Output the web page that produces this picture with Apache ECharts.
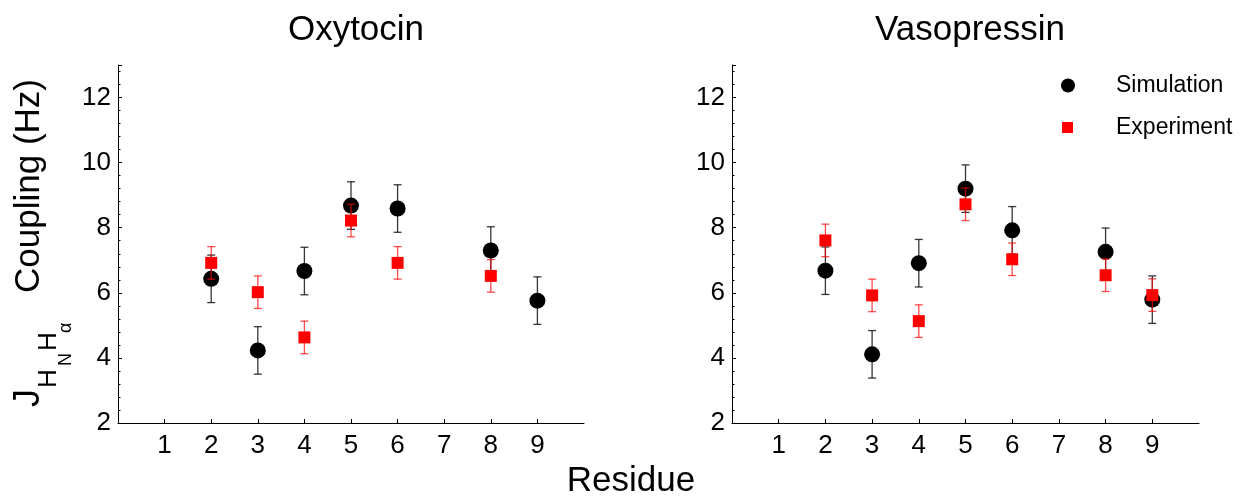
<!DOCTYPE html>
<html>
<head>
<meta charset="utf-8">
<script src="https://cdn.jsdelivr.net/npm/echarts@6/dist/echarts.min.js"></script>
<style>
  html, body { margin: 0; padding: 0; background: #fff; }
  #chart { width: 1244px; height: 501px; }
</style>
</head>
<body>
<div id="chart"></div>
<script>
// residue numbers
var simResidues = [2, 3, 4, 5, 6, 8, 9];
var oxyExpResidues = [2, 3, 4, 5, 6, 8];
var vasoExpResidues = [2, 3, 4, 5, 6, 8, 9];

// Oxytocin
var oxySim = [6.43, 4.23, 6.67, 8.68, 8.59, 7.30, 5.76];
var oxySimErr = [0.73, 0.73, 0.73, 0.73, 0.73, 0.73, 0.73];
var oxyExp = [6.92, 6.02, 4.63, 8.22, 6.92, 6.52];
var oxyExpErr = [0.5, 0.5, 0.5, 0.5, 0.5, 0.5];

// Vasopressin
var vasoSim = [6.68, 4.11, 6.91, 9.20, 7.92, 7.26, 5.79];
var vasoSimErr = [0.73, 0.73, 0.73, 0.73, 0.73, 0.73, 0.73];
var vasoExp = [7.61, 5.92, 5.13, 8.72, 7.03, 6.54, 5.93];
var vasoExpErr = [0.5, 0.5, 0.5, 0.5, 0.5, 0.5, 0.5];

var xTicks = [1, 2, 3, 4, 5, 6, 7, 8, 9];
var yTicks = [2, 4, 6, 8, 10, 12];

var FONT = "'Liberation Sans', Arial, sans-serif";

function points(xs, ys) {
  return xs.map(function (x, i) { return [x, ys[i]]; });
}
function bars(xs, ys, es) {
  return xs.map(function (x, i) { return [x, ys[i] - es[i], ys[i] + es[i]]; });
}

function errorBar(color) {
  return function (params, api) {
    var x = api.value(0);
    var lo = api.coord([x, api.value(1)]);
    var hi = api.coord([x, api.value(2)]);
    var w = 4;
    var st = { stroke: color, lineWidth: 1.3 };
    return {
      type: 'group',
      children: [
        { type: 'line', shape: { x1: hi[0], y1: hi[1], x2: lo[0], y2: lo[1] }, style: st },
        { type: 'line', shape: { x1: hi[0] - w, y1: hi[1], x2: hi[0] + w, y2: hi[1] }, style: st },
        { type: 'line', shape: { x1: lo[0] - w, y1: lo[1], x2: lo[0] + w, y2: lo[1] }, style: st }
      ]
    };
  };
}

function xAxisFor(idx) {
  return {
    gridIndex: idx,
    type: 'value',
    min: 0,
    max: 10,
    interval: 1,
    axisLine: { lineStyle: { color: '#000', width: 1 } },
    axisTick: { inside: true, length: 4, customValues: xTicks, lineStyle: { color: '#000' } },
    axisLabel: { customValues: xTicks, color: '#000', fontSize: 26, fontFamily: FONT, margin: 10 },
    splitLine: { show: false }
  };
}

function yAxisFor(idx) {
  return {
    gridIndex: idx,
    type: 'value',
    min: 2,
    max: 13,
    interval: 2,
    axisLine: { show: true, lineStyle: { color: '#000', width: 1 } },
    axisTick: { show: true, inside: true, length: 4, lineStyle: { color: '#000' } },
    minorTick: { show: true, splitNumber: 5, length: 2.5, lineStyle: { color: '#000' } },
    axisLabel: {
      color: '#000', fontSize: 26, fontFamily: FONT, margin: 7,
      showMaxLabel: false,
      formatter: function (v) { return yTicks.indexOf(v) >= 0 ? String(v) : ''; }
    },
    splitLine: { show: false }
  };
}

function panelSeries(idx, simY, simE, expX, expY, expE) {
  return [
    {
      name: 'Simulation', type: 'custom', xAxisIndex: idx, yAxisIndex: idx,
      renderItem: errorBar('rgba(20,20,20,0.85)'),
      itemStyle: { color: '#000' },
      encode: { x: 0, y: [1, 2] },
      data: bars(simResidues, simY, simE), z: 2, silent: true
    },
    {
      name: 'Simulation', type: 'scatter', xAxisIndex: idx, yAxisIndex: idx,
      symbol: 'circle', symbolSize: 16, itemStyle: { color: '#000', opacity: 1 },
      data: points(simResidues, simY), z: 3
    },
    {
      name: 'Experiment', type: 'custom', xAxisIndex: idx, yAxisIndex: idx,
      renderItem: errorBar('rgba(255,0,0,0.7)'),
      itemStyle: { color: '#ff0000' },
      encode: { x: 0, y: [1, 2] },
      data: bars(expX, expY, expE), z: 4, silent: true
    },
    {
      name: 'Experiment', type: 'scatter', xAxisIndex: idx, yAxisIndex: idx,
      symbol: 'rect', symbolSize: 12, itemStyle: { color: '#ff0000', opacity: 1 },
      data: points(expX, expY), z: 5
    }
  ];
}

// rotated y-axis label: J_{H_N H_alpha} Coupling (Hz)
function vText(text, x, y, size) {
  return {
    type: 'text', x: x, y: y, rotation: Math.PI / 2,
    style: { text: text, fontSize: size, fontFamily: FONT, fill: '#000', textAlign: 'left', textVerticalAlign: 'middle' }
  };
}

var chart = echarts.init(document.getElementById('chart'));
chart.setOption({
  animation: false,
  backgroundColor: '#fff',
  title: [
    { text: 'Oxytocin', left: 351, top: 8, textAlign: 'center', textStyle: { fontSize: 35, fontWeight: 'normal', color: '#000', fontFamily: FONT } },
    { text: 'Vasopressin', left: 965, top: 8, textAlign: 'center', textStyle: { fontSize: 35, fontWeight: 'normal', color: '#000', fontFamily: FONT } }
  ],
  legend: [
    {
      data: [{ name: 'Simulation', itemStyle: { color: '#000' } }], orient: 'vertical', left: 1056, top: 69,
      icon: 'circle', itemWidth: 14, itemHeight: 14,
      textStyle: { fontSize: 23, color: '#000', fontFamily: FONT, padding: [0, 0, 0, 36] },
      selectedMode: false
    },
    {
      data: [{ name: 'Experiment', itemStyle: { color: '#ff0000' } }], orient: 'vertical', left: 1057, top: 111,
      icon: 'rect', itemWidth: 11, itemHeight: 11,
      textStyle: { fontSize: 23, color: '#000', fontFamily: FONT, padding: [0, 0, 0, 38] },
      selectedMode: false
    }
  ],
  grid: [
    { left: 118, top: 65, width: 466, height: 358 },
    { left: 732, top: 65, width: 467, height: 358 }
  ],
  xAxis: [xAxisFor(0), xAxisFor(1)],
  yAxis: [yAxisFor(0), yAxisFor(1)],
  series: panelSeries(0, oxySim, oxySimErr, oxyExpResidues, oxyExp, oxyExpErr)
    .concat(panelSeries(1, vasoSim, vasoSimErr, vasoExpResidues, vasoExp, vasoExpErr)),
  graphic: [
    vText('J', 29, 407, 36),
    vText('H', 49, 388, 26),
    vText('N', 66, 366, 18),
    vText('H', 49, 351, 26),
    vText('\u03b1', 66, 333, 18),
    vText('Coupling (Hz)', 29, 293, 35),
    {
      type: 'text', x: 631, y: 481,
      style: { text: 'Residue', fontSize: 35, fontFamily: FONT, fill: '#000', textAlign: 'center', textVerticalAlign: 'middle' }
    }
  ]
});
</script>
</body>
</html>
